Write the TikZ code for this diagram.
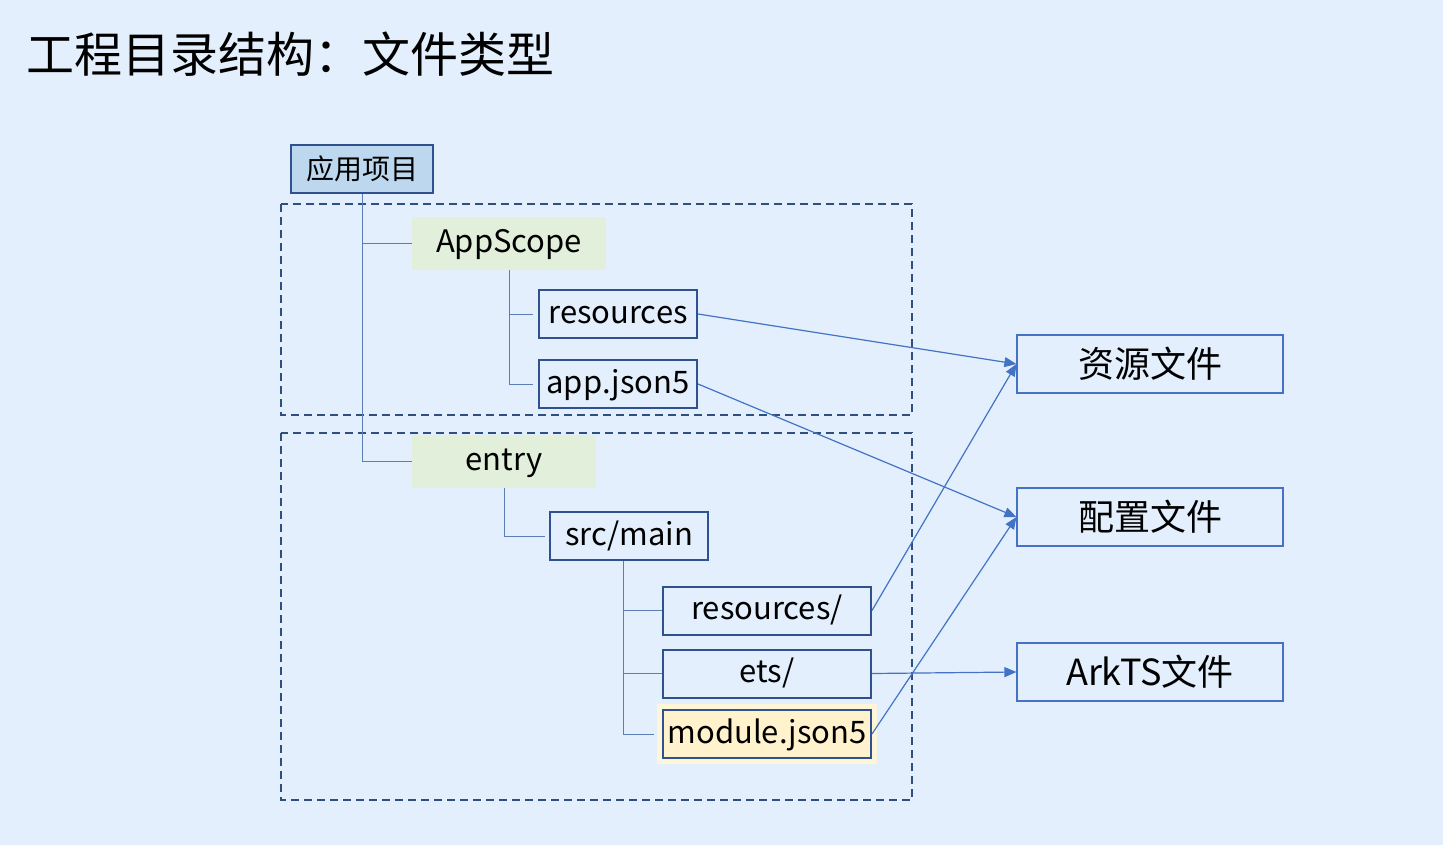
\documentclass[tikz,border=0pt]{standalone}
\usepackage{fontspec}
\setmainfont{Noto Sans CJK SC}
\usetikzlibrary{arrows.meta}
\definecolor{bgblue}{HTML}{E3EFFC}
\definecolor{rootfill}{HTML}{BDD7EE}
\definecolor{boxline}{HTML}{2F528F}
\definecolor{greenfill}{HTML}{E2EFDA}
\definecolor{yellowfill}{HTML}{FFF2CC}
\definecolor{yellowglow}{HTML}{FFF6D9}
\definecolor{treeblue}{HTML}{5B7FB5}
\definecolor{arrowblue}{HTML}{4472C4}
\definecolor{dashblue}{HTML}{2F4F7F}
\begin{document}
\begin{tikzpicture}[x=0.5pt,y=-0.5pt,inner sep=0pt,
  dirbox/.style={draw=boxline,line width=1pt,minimum width=79pt,minimum height=24pt,font=\fontsize{15.5}{17}\selectfont,text height=0.95em,text depth=0.05em},
  greenbox/.style={fill=greenfill,minimum height=26.5pt,font=\fontsize{15.5}{17}\selectfont,text height=0.95em,text depth=0.02em},
  typebox/.style={draw=arrowblue,line width=0.6pt,minimum width=133pt,minimum height=29pt,font=\fontsize{18}{20}\selectfont},
  treeline/.style={draw=treeblue,line width=0.5pt},
  linkarrow/.style={draw=arrowblue,line width=0.6pt,-{Triangle[length=6pt,width=5pt]}},
  groupbox/.style={draw=dashblue,line width=0.75pt,dash pattern=on 4pt off 2.5pt}]
\useasboundingbox[fill=bgblue] (0,0) rectangle (1443,845);
\draw (26,54) node[anchor=west,font=\fontsize{24}{26}\selectfont] (title) {工程目录结构：文件类型};
% groups
\draw[groupbox] (281,204) rectangle (912,415);
\draw[groupbox] (281,433) rectangle (912,800);
% tree
\draw (362,169) node[draw=boxline,fill=rootfill,line width=1pt,minimum width=71pt,minimum height=24pt,font=\fontsize{14}{16}\selectfont] (root) {应用项目};
\draw (509,243.5) node[greenbox,minimum width=97pt] (appscope) {AppScope};
\draw (618,314) node[dirbox] (res) {resources};
\draw (618,384) node[dirbox] (app) {app.json5};
\draw (504,461.5) node[greenbox,minimum width=92pt] (entry) {entry};
\draw (629,536) node[dirbox] (srcmain) {src/main};
\draw (767,610.5) node[dirbox,minimum width=104pt] (resdir) {resources/};
\draw (767,673.5) node[dirbox,minimum width=104pt] (ets) {ets/};
\draw (767,734) node[dirbox,minimum width=104pt,fill=yellowfill,preaction={draw=yellowglow,line width=6pt}] (module) {module.json5};
% file types
\draw (1150,364) node[typebox] (restype) {资源文件};
\draw (1150,517) node[typebox] (conftype) {配置文件};
\draw (1150,672) node[typebox] (arktype) {ArkTS文件};
% connectors
\draw[treeline] (root.south) |- (appscope.west);
\draw[treeline] (root.south) |- (entry.west);
\draw[treeline,shorten >=2.5pt] (appscope.south) |- (res.west);
\draw[treeline,shorten >=2.5pt] (appscope.south) |- (app.west);
\draw[treeline,shorten >=2pt] (entry.south) |- (srcmain.west);
\draw[treeline] ([xshift=-3pt]srcmain.south) |- (resdir.west);
\draw[treeline] ([xshift=-3pt]srcmain.south) |- (ets.west);
\draw[treeline,shorten >=4pt] ([xshift=-3pt]srcmain.south) |- (module.west);
\draw[linkarrow] (res.east) -- (restype.west);
\draw[linkarrow] (app.east) -- (conftype.west);
\draw[linkarrow] (resdir.east) -- (restype.west);
\draw[linkarrow] (ets.east) -- (arktype.west);
\draw[linkarrow] (module.east) -- (conftype.west);
\end{tikzpicture}
\end{document}
